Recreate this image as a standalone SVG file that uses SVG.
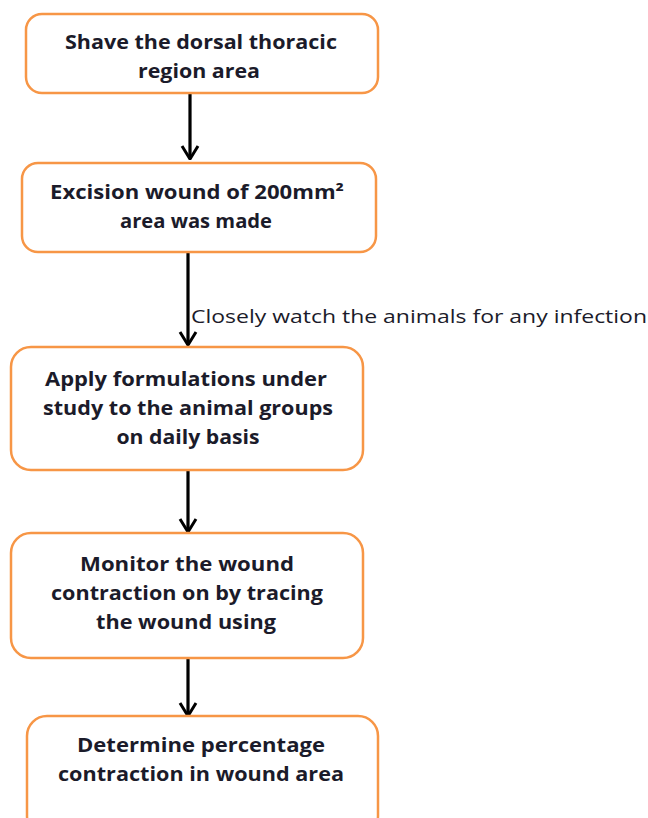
<svg xmlns="http://www.w3.org/2000/svg" width="648" height="818" viewBox="0 0 648 818">
<style>
.box{fill:#fff;stroke:#F79646;stroke-width:2.5}
.t{font-family:"Open Sans","Liberation Sans",sans-serif;font-weight:bold;font-size:19px;fill:#1b1b2a;text-anchor:middle}
.lbl{font-family:"Open Sans","Liberation Sans",sans-serif;font-size:18px;fill:#1b1b2a}
.c{stroke:#000;stroke-width:3.2;fill:none}
</style>
<defs>
<marker id="ah" viewBox="0 0 16 20" refX="15" refY="10" markerWidth="16" markerHeight="20" markerUnits="userSpaceOnUse" orient="auto">
<polyline points="2,2 15,10 2,18" fill="none" stroke="#000" stroke-width="3"/>
</marker>
</defs>
<g id="connectors">
<line class="c" x1="190" y1="94" x2="190" y2="159" marker-end="url(#ah)"/>
<line class="c" x1="188" y1="253" x2="188" y2="345" marker-end="url(#ah)"/>
<text class="lbl" x="191" y="323" textLength="456" lengthAdjust="spacingAndGlyphs">Closely watch the animals for any infection</text>
<line class="c" x1="188" y1="471" x2="188" y2="532" marker-end="url(#ah)"/>
<line class="c" x1="188" y1="658" x2="188" y2="716" marker-end="url(#ah)"/>
</g>
<g id="n1">
<rect class="box" x="26" y="14" width="352" height="79" rx="16"/>
<text class="t" x="201" y="49" textLength="272" lengthAdjust="spacingAndGlyphs">Shave the dorsal thoracic</text>
<text class="t" x="199" y="78" textLength="122" lengthAdjust="spacingAndGlyphs">region area</text>
</g>
<g id="n2">
<rect class="box" x="22" y="163" width="354" height="89" rx="16"/>
<text class="t" x="197" y="199" textLength="294" lengthAdjust="spacingAndGlyphs">Excision  wound of 200mm²</text>
<text class="t" x="196" y="228" textLength="152" lengthAdjust="spacingAndGlyphs">area was made</text>
</g>
<g id="n3">
<rect class="box" x="11" y="347" width="352" height="123" rx="20"/>
<text class="t" x="186" y="386" textLength="282" lengthAdjust="spacingAndGlyphs">Apply formulations under</text>
<text class="t" x="188" y="415" textLength="290" lengthAdjust="spacingAndGlyphs">study to the animal groups</text>
<text class="t" x="188" y="444" textLength="143" lengthAdjust="spacingAndGlyphs">on daily basis</text>
</g>
<g id="n4">
<rect class="box" x="11" y="533" width="352" height="125" rx="20"/>
<text class="t" x="187" y="571" textLength="214" lengthAdjust="spacingAndGlyphs">Monitor the wound</text>
<text class="t" x="187" y="600" textLength="272" lengthAdjust="spacingAndGlyphs">contraction on by tracing</text>
<text class="t" x="186" y="629" textLength="180" lengthAdjust="spacingAndGlyphs">the wound using</text>
</g>
<g id="n5">
<rect class="box" x="27" y="716" width="351" height="120" rx="20"/>
<text class="t" x="201" y="752" textLength="248" lengthAdjust="spacingAndGlyphs">Determine percentage</text>
<text class="t" x="201" y="781" textLength="286" lengthAdjust="spacingAndGlyphs">contraction in wound area</text>
</g>
</svg>
